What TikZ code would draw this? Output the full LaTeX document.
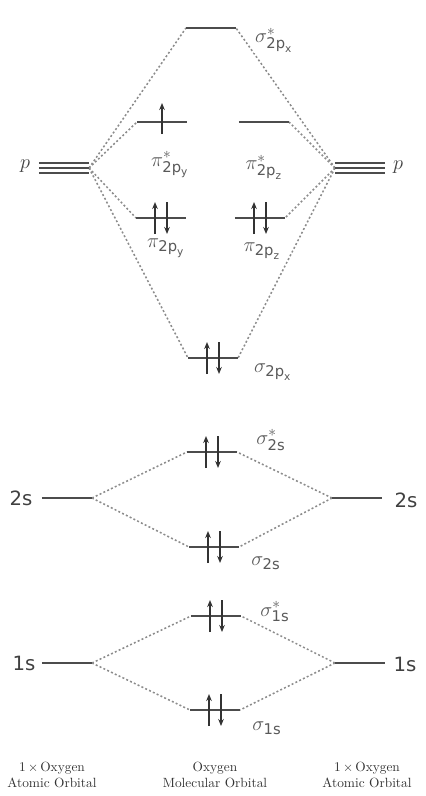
\documentclass[tikz,border=0pt]{standalone}
\usepackage{fontspec}
\setsansfont{DejaVu Sans}
\usetikzlibrary{arrows.meta,calc}
\tikzset{lvl/.style={minimum width=1.25cm, minimum height=0pt, inner sep=0pt, outer sep=0pt},
  lvlline/.style={line width=1.1pt, black!70},
  conn/.style={line width=1.1pt, black!45, dash pattern=on 1.4pt off 1.6pt},
  elec/.style={-{Stealth[length=5pt,width=4pt]}, line width=1pt, black!80},
  mo/.style={font=\fontsize{15}{18}\selectfont, text=black!65, fill=white, inner sep=1pt},
  ao/.style={font=\sffamily\fontsize{14}{16}\selectfont, text=black!75},
  caption/.style={font=\rmfamily\fontsize{9.5}{10.8}\selectfont, align=center, text=black!80}}

\begin{document}
\begin{tikzpicture}[x=0.025cm, y=-0.025cm]
  \useasboundingbox (0,0) rectangle (426,796);
  % atomic levels
  \node[lvl] (pL) at (64,168) {};
  \node[lvl] (pR) at (360,168) {};
  \node[lvl] (sL2) at (67,498) {};
  \node[lvl] (sR2) at (357,498) {};
  \node[lvl] (sL1) at (67,663) {};
  \node[lvl] (sR1) at (360,663) {};
  % molecular levels
  \node[lvl] (sxs) at (211,28) {};
  \node[lvl] (pyst) at (162,122) {};
  \node[lvl] (pzst) at (264,122) {};
  \node[lvl] (py) at (161,218) {};
  \node[lvl] (pz) at (260,218) {};
  \node[lvl] (sx) at (213,358) {};
  \node[lvl] (sst2) at (212,452) {};
  \node[lvl] (ss2) at (214,547) {};
  \node[lvl] (sst1) at (216,616) {};
  \node[lvl] (ss1) at (215,710) {};

  % correlation lines
  \foreach \m in {sxs,pyst,py,sx} \draw[conn] (pL.east) -- (\m.west);
  \foreach \m in {sxs,pzst,pz,sx} \draw[conn] (pR.west) -- (\m.east);
  \foreach \m in {sst2,ss2} {
    \draw[conn] (sL2.east) -- (\m.west);
    \draw[conn] (sR2.west) -- (\m.east);
  }
  \foreach \m in {sst1,ss1} {
    \draw[conn] (sL1.east) -- (\m.west);
    \draw[conn] (sR1.west) -- (\m.east);
  }

  % level lines
  \foreach \n in {sL2,sR2,sL1,sR1,sxs,pyst,pzst,py,pz,sx,sst2,ss2,sst1,ss1}
    \draw[lvlline] (\n.west) -- (\n.east);
  \foreach \n in {pL,pR}
    \foreach \d in {-5,0,5}
      \draw[lvlline, line width=0.9pt] ($(\n.west)+(0,\d)$) -- ($(\n.east)+(0,\d)$);

  % electrons
  \draw[elec] ($(pyst)+(0,12)$) -- ($(pyst)+(0,-19)$);
  \foreach \n in {py,pz,sx,sst2,ss2,sst1,ss1} {
    \draw[elec] ($(\n)+(-6,16)$) -- ($(\n)+(-6,-16)$);
    \draw[elec] ($(\n)+(6,-16)$) -- ($(\n)+(6,16)$);
  }

  % labels
  \node[mo] (lsxs) at (274,40) {$\sigma^{*}_{\mathsf{2p}_\mathsf{x}}$};
  \node[mo] (lpyst) at (170,165) {$\pi^{*}_{\mathsf{2p}_\mathsf{y}}$};
  \node[mo] (lpzst) at (264,167) {$\pi^{*}_{\mathsf{2p}_\mathsf{z}}$};
  \node[mo] (lpy) at (166,248) {$\pi_{\mathsf{2p}_\mathsf{y}}$};
  \node[mo] (lpz) at (262,251) {$\pi_{\mathsf{2p}_\mathsf{z}}$};
  \node[mo] (lsx) at (273,372) {$\sigma_{\mathsf{2p}_\mathsf{x}}$};
  \node[mo] (lsst2) at (271,440) {$\sigma^{*}_{\mathsf{2s}}$};
  \node[mo] (lss2) at (266,563) {$\sigma_{\mathsf{2s}}$};
  \node[mo] (lsst1) at (275,612) {$\sigma^{*}_{\mathsf{1s}}$};
  \node[mo] (lss1) at (267,728) {$\sigma_{\mathsf{1s}}$};
  \node[ao] (lpL) at (25,166) {$p$};
  \node[ao] (lpR) at (398,167) {$p$};
  \node[ao] (lsL2) at (21,498) {2s};
  \node[ao] (lsR2) at (406,500) {2s};
  \node[ao] (lsL1) at (24,663) {1s};
  \node[ao] (lsR1) at (405,664) {1s};
  \node[caption] (capL) at (52,775) {1\,$\times$\,Oxygen\\Atomic Orbital};
  \node[caption] (capM) at (215,775) {Oxygen\\Molecular Orbital};
  \node[caption] (capR) at (367,775) {1\,$\times$\,Oxygen\\Atomic Orbital};
\end{tikzpicture}
\end{document}
